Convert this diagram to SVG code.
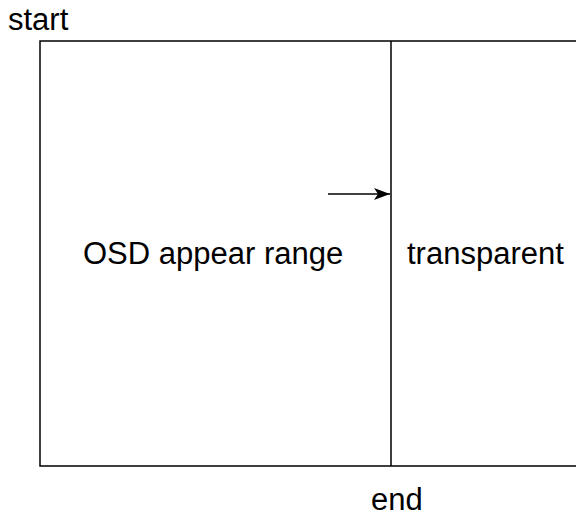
<svg xmlns="http://www.w3.org/2000/svg" width="576" height="519" viewBox="0 0 576 519">
<style>
.t{font-family:"Liberation Sans",Arial,sans-serif;font-size:31px;fill:#000}
.ln{stroke:#000;stroke-width:1.5;fill:none}
</style>
<defs>
<marker id="ah" markerWidth="16" markerHeight="12" refX="16" refY="6" orient="auto" markerUnits="userSpaceOnUse" viewBox="0 0 16 12">
<path d="M0,0 L16,6 L0,12 L4,6 Z" fill="#000"/>
</marker>
</defs>
<rect width="576" height="519" fill="#fff"/>
<g id="osd">
<path class="ln" d="M391,41 H40 V466 H391"/>
<text class="t" x="83" y="264">OSD appear range</text>
</g>
<g id="transparent">
<path class="ln" d="M391,41 H580 M391,466 H580 M391,41 V466"/>
<text class="t" x="407" y="264">transparent</text>
</g>
<text class="t" x="8" y="30">start</text>
<text class="t" x="371" y="510">end</text>
<g id="connectors">
<line class="ln" x1="328" y1="194" x2="390" y2="194" marker-end="url(#ah)"/>
</g>
</svg>
